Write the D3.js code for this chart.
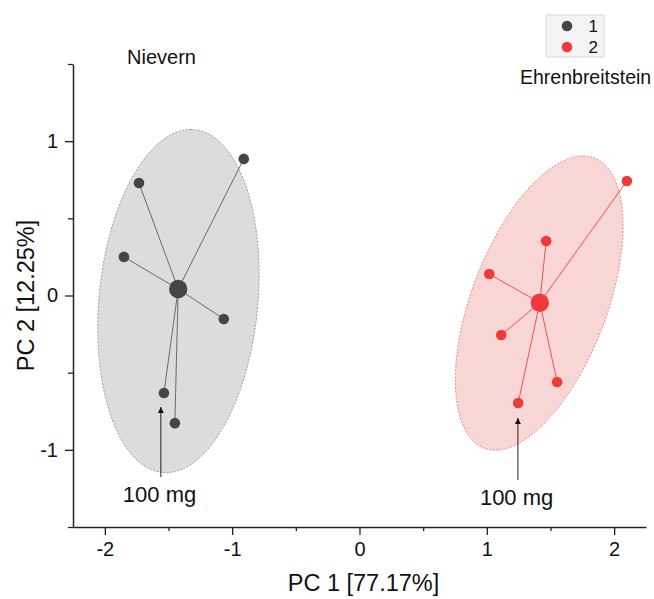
<!DOCTYPE html>
<html>
<head>
<meta charset="utf-8">
<script src="https://cdn.jsdelivr.net/npm/d3@7"></script>
<style>
  body { margin: 0; background: #fff; }
  svg { font-family: "Liberation Sans", Arial, sans-serif; }
</style>
</head>
<body>
<svg id="chart" width="654" height="599"></svg>
<script>
// group labels
const groups = ["1", "2"];
const groupNames = ["Nievern", "Ehrenbreitstein"];

// scores
const pc1Nievern = [-0.909, -1.732, -1.850, -1.066, -1.536, -1.450];
const pc2Nievern = [0.885, 0.729, 0.250, -0.152, -0.632, -0.827];
const pc1Ehren = [2.100, 1.466, 1.019, 1.113, 1.552, 1.246];
const pc2Ehren = [0.742, 0.353, 0.139, -0.256, -0.560, -0.697];

// confidence ellipses: centre + two conjugate half axes (data units)
const ellNievern = { cx: -1.422, cy: -0.036, u: [0.098, 1.112], v: [0.626, 0] };
const ellEhren = { cx: 1.411, cy: -0.049, u: [0.345, 0.953], v: [0.561, 0] };

// "100 mg" arrows: x, y start, y end
const arrowNievern = [-1.560, -1.176, -0.723];
const arrowEhren = [1.244, -1.196, -0.794];

const xTicks = [-2, -1, 0, 1, 2];
const xMinor = [-1.5, -0.5, 0.5, 1.5];
const yTicks = [-1, 0, 1];
const yMinor = [-1.5, -0.5, 0.5, 1.5];

const svg = d3.select("#chart");
const x = d3.scaleLinear().domain([-2.25, 2.25]).range([73, 646]);
const y = d3.scaleLinear().domain([-1.5, 1.5]).range([527, 64]);

const series = [
  { pc1: pc1Nievern, pc2: pc2Nievern, ell: ellNievern, arrow: arrowNievern,
    fill: "#dcdcdc", stroke: "#888", dot: "#454545", line: "#6a6a6a" },
  { pc1: pc1Ehren, pc2: pc2Ehren, ell: ellEhren, arrow: arrowEhren,
    fill: "#f9d6d6", stroke: "#ee6b6b", dot: "#f03a3a", line: "#f05050" }
];

svg.append("defs").append("marker")
  .attr("id", "head")
  .attr("viewBox", "0 0 10 10")
  .attr("refX", 10).attr("refY", 5)
  .attr("markerWidth", 6).attr("markerHeight", 9)
  .attr("markerUnits", "userSpaceOnUse")
  .attr("orient", "auto")
  .append("path").attr("d", "M0,0L10,5L0,10Z").attr("fill", "#111");

series.forEach(s => {
  const e = s.ell;
  const pts = d3.range(0, 361, 3).map(a => {
    const t = a * Math.PI / 180;
    return [e.cx + e.u[0] * Math.cos(t) + e.v[0] * Math.sin(t),
            e.cy + e.u[1] * Math.cos(t) + e.v[1] * Math.sin(t)];
  });
  svg.append("path")
    .attr("d", d3.line().x(d => x(d[0])).y(d => y(d[1]))(pts) + "Z")
    .attr("fill", s.fill)
    .attr("stroke", s.stroke)
    .attr("stroke-width", 0.8)
    .attr("stroke-dasharray", "2,1.5");

  const mx = d3.mean(s.pc1), my = d3.mean(s.pc2);
  const g = svg.append("g");
  g.selectAll("line.spoke")
    .data(s.pc1)
    .enter()
    .append("line")
    .attr("x1", x(mx)).attr("y1", y(my))
    .attr("x2", d => x(d))
    .attr("y2", (d, i) => y(s.pc2[i]))
    .attr("stroke", s.line)
    .attr("stroke-width", 1);
  g.selectAll("circle")
    .data(s.pc1)
    .enter()
    .append("circle")
    .attr("cx", d => x(d))
    .attr("cy", (d, i) => y(s.pc2[i]))
    .attr("r", 5.3)
    .attr("fill", s.dot);
  g.append("circle")
    .attr("cx", x(mx)).attr("cy", y(my))
    .attr("r", 9.2)
    .attr("fill", s.dot);

  svg.append("line")
    .attr("x1", x(s.arrow[0])).attr("y1", y(s.arrow[1]))
    .attr("x2", x(s.arrow[0])).attr("y2", y(s.arrow[2]))
    .attr("stroke", "#222")
    .attr("stroke-width", 1)
    .attr("marker-end", "url(#head)");
  svg.append("text")
    .attr("x", x(s.arrow[0]) - 38)
    .attr("y", y(s.arrow[1]) + 25)
    .attr("font-size", 22)
    .attr("fill", "#111")
    .text("100 mg");
});

// axes
const axisColor = "#222";
const xAxis = svg.append("g").attr("transform", "translate(0,527)")
  .call(d3.axisBottom(x).tickValues(xTicks).tickSize(8).tickSizeOuter(0).tickFormat(d => String(d)));
svg.append("g").attr("transform", "translate(0,527)")
  .call(d3.axisBottom(x).tickValues(xMinor).tickSize(4).tickFormat(""))
  .select(".domain").remove();
const yAxis = svg.append("g").attr("transform", "translate(73,0)")
  .call(d3.axisLeft(y).tickValues(yTicks).tickSize(8).tickSizeOuter(0).tickFormat(d => String(d)));
svg.append("g").attr("transform", "translate(73,0)")
  .call(d3.axisLeft(y).tickValues(yMinor).tickSize(5).tickFormat(""))
  .select(".domain").remove();

svg.selectAll(".domain").attr("stroke", axisColor).attr("stroke-width", 1.5);
svg.selectAll(".tick line").attr("stroke", axisColor).attr("stroke-width", 1.3);
xAxis.selectAll("text").attr("font-size", 20).attr("fill", "#111").attr("dy", "0.9em");
yAxis.selectAll("text").attr("font-size", 20).attr("fill", "#111").attr("dx", "-0.2em");
svg.selectAll(".tick text").style("font-family", "Liberation Sans, Arial, sans-serif");

svg.append("text")
  .attr("x", x(0) + 4).attr("y", 591)
  .attr("text-anchor", "middle")
  .attr("font-size", 23.5).attr("fill", "#111")
  .text("PC 1 [77.17%]");
svg.append("text")
  .attr("transform", `translate(34,${y(0)}) rotate(-90)`)
  .attr("text-anchor", "middle")
  .attr("font-size", 23.5).attr("fill", "#111")
  .text("PC 2 [12.25%]");

// group labels
svg.append("text").attr("x", 127).attr("y", 64)
  .attr("font-size", 20).attr("fill", "#111").text(groupNames[0]);
svg.append("text").attr("x", 520).attr("y", 84)
  .attr("font-size", 19.5).attr("fill", "#111").text(groupNames[1]);

// legend
const leg = svg.append("g");
leg.append("rect")
  .attr("x", 546).attr("y", 15).attr("width", 58).attr("height", 42)
  .attr("fill", "#f4f4f4").attr("stroke", "#d8d8d8");
leg.selectAll("circle")
  .data(groups)
  .enter()
  .append("circle")
  .attr("cx", 567)
  .attr("cy", (d, i) => 26 + i * 21)
  .attr("r", 5.3)
  .attr("fill", (d, i) => series[i].dot);
leg.selectAll("text")
  .data(groups)
  .enter()
  .append("text")
  .attr("x", 598)
  .attr("y", (d, i) => 32 + i * 21)
  .attr("text-anchor", "end")
  .attr("font-size", 17)
  .attr("fill", "#111")
  .text(d => d);
</script>
</body>
</html>
